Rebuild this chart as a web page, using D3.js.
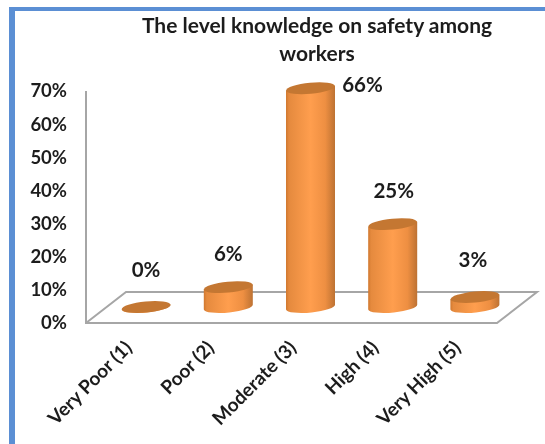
<!DOCTYPE html>
<html>
<head>
<meta charset="utf-8">
<script src="https://cdnjs.cloudflare.com/ajax/libs/d3/7.8.5/d3.min.js"></script>
<style>
html,body{margin:0;padding:0;background:#fff;}
svg{display:block;}
text{font-family:Lato,"Open Sans",sans-serif;font-weight:700;fill:#1c1c1c;}
</style>
</head>
<body>
<svg id="c" width="545" height="444"></svg>
<script>
const categories = ["Very Poor (1)", "Poor (2)", "Moderate (3)", "High (4)", "Very High (5)"];
const values = [0, 6, 66, 25, 3];
const valueLabels = ["0%", "6%", "66%", "25%", "3%"];
const yTicks = [0, 10, 20, 30, 40, 50, 60, 70];
const titleLines = ["The level knowledge on safety among", "workers"];
const labelNudgeX = [0, 0, 52, 1, -2];
const labelNudgeY = [-30, -26, 4, -26, -30];

const svg = d3.select("#c");
const defs = svg.append("defs");
const grad = defs.append("linearGradient").attr("id", "cyl");
[[0, "#d0782f"], [0.06, "#e58a3e"], [0.5, "#ff9e4e"], [0.8, "#ee8f42"], [1, "#bd7233"]]
  .forEach(s => grad.append("stop").attr("offset", s[0]).attr("stop-color", s[1]));
defs.append("filter").attr("id", "soft").append("feGaussianBlur").attr("stdDeviation", 0.4);

svg.append("rect").attr("x", 9).attr("y", 7).attr("width", 536).attr("height", 4).attr("fill", "#5b8fd4");
svg.append("rect").attr("x", 9).attr("y", 7).attr("width", 6).attr("height", 437).attr("fill", "#5b8fd4");

const floorY = 323;
const y = d3.scaleLinear().domain([0, 70]).range([floorY, floorY - 232]);
const x = d3.scaleBand().domain(categories).range([105, 516]);

const depthX = 40, depthY = 31, floorW = 411;
const grey = "#a6a6a6";
const wall = svg.append("g").attr("fill", "none").attr("stroke", grey).attr("stroke-width", 2);
wall.append("path").attr("d", d3.line()([
  [86, y(70)], [86, floorY], [86 + floorW, floorY], [86 + floorW + depthX, floorY - depthY],
  [86 + depthX, floorY - depthY], [86, floorY]
]));

const baseY = floorY - 16, rx = 24.5, ry = 5.5, tilt = 2.5, tiltDeg = -5.5;
const bars = svg.append("g").selectAll("g").data(categories).join("g")
  .attr("transform", d => `translate(${x(d) + x.bandwidth() / 2},0)`);
const barH = i => floorY - y(values[i]);
bars.append("path")
  .attr("fill", "url(#cyl)")
  .attr("d", (d, i) => {
    const top = baseY - barH(i);
    return `M${-rx},${top + tilt}L${-rx},${baseY + tilt}A${rx},${ry} ${tiltDeg} 0 0 ${rx},${baseY - tilt}L${rx},${top - tilt}Z`;
  });
bars.append("ellipse")
  .attr("rx", rx).attr("ry", ry).attr("fill", "#c47732")
  .attr("transform", (d, i) => `translate(0,${baseY - barH(i)}) rotate(${tiltDeg})`);

const txt = svg.append("g").attr("filter", "url(#soft)");
txt.selectAll(".title").data(titleLines).join("text").attr("class", "title")
  .attr("x", 317).attr("y", (d, i) => 33 + i * 28)
  .attr("text-anchor", "middle").attr("font-size", 21).text(d => d);

txt.selectAll(".tick").data(yTicks).join("text").attr("class", "tick")
  .attr("x", 67).attr("y", d => y(d)).attr("dy", "0.35em")
  .attr("text-anchor", "end").attr("font-size", 18.5).text(d => d + "%");

txt.selectAll(".val").data(valueLabels).join("text").attr("class", "val")
  .attr("x", (d, i) => x(categories[i]) + x.bandwidth() / 2 + labelNudgeX[i])
  .attr("y", (d, i) => baseY - barH(i) + labelNudgeY[i])
  .attr("text-anchor", "middle").attr("font-size", 20.5).text(d => d);

txt.selectAll(".cat").data(categories).join("text").attr("class", "cat")
  .attr("text-anchor", "end").attr("font-size", 19)
  .attr("transform", d => `translate(${x(d) + x.bandwidth() / 2 - 13},349) rotate(-45)`)
  .text(d => d);
</script>
</body>
</html>
